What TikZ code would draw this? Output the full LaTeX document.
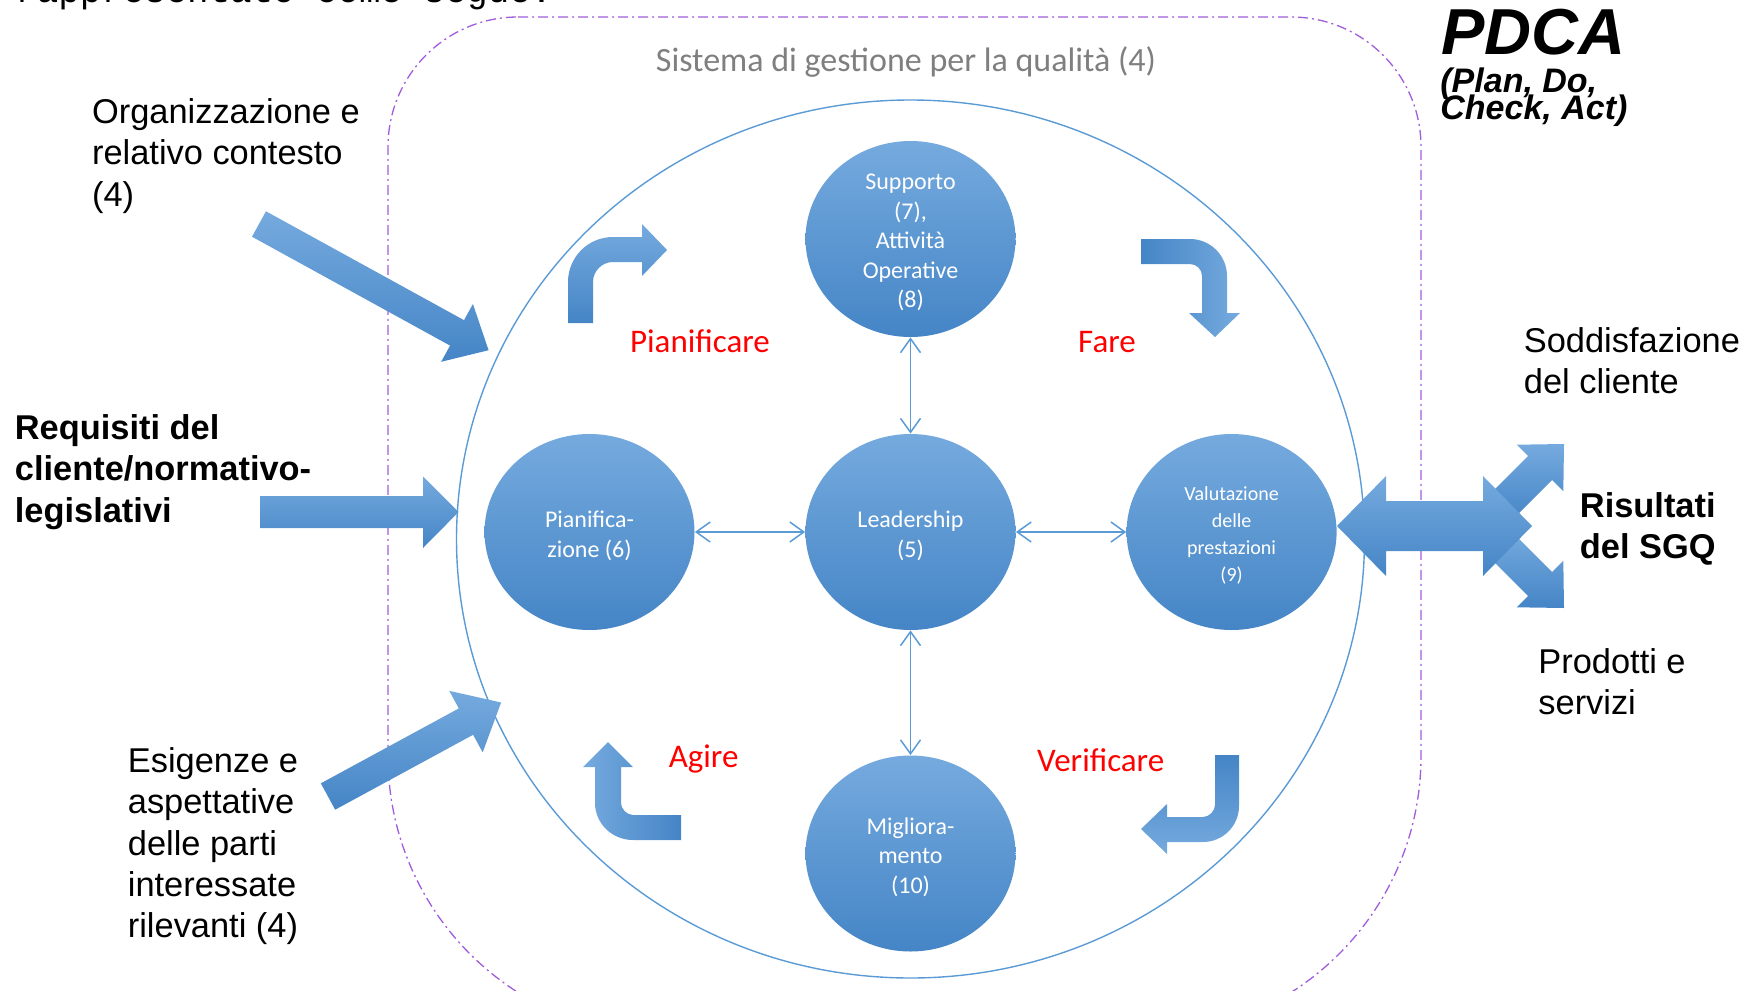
\documentclass[tikz,border=0pt]{standalone}
\usepackage{fontspec}
\setmainfont{Liberation Sans}
\newfontfamily\gillfont{Carlito}
\newfontfamily\monofont{Liberation Mono}
\usetikzlibrary{arrows.meta,shapes.geometric}
\definecolor{blueL}{HTML}{75AADE}
\definecolor{blueD}{HTML}{4585C6}
\definecolor{ringblue}{HTML}{5B9BD5}
\definecolor{dashpurple}{HTML}{A05CDB}
\definecolor{titlegray}{HTML}{7F7F7F}
\newcommand\tightlines{\lineskiplimit=-50pt\relax}
\begin{document}
\begin{tikzpicture}[x=0.5pt, y=-0.5pt,
  ring/.style={ellipse, draw=ringblue, line width=0.7pt, minimum width=454pt, minimum height=439pt, inner sep=0},
  proc/.style={ellipse, top color=blueL, bottom color=blueD, draw=none, minimum width=105pt, minimum height=98pt, inner sep=0},
  ptxt/.style={text=white, font=\gillfont\fontsize{12}{14.8}\selectfont, align=center, inner sep=0, yshift=-1.8pt},
  ptxtsmall/.style={ptxt, font=\gillfont\fontsize{10}{13.4}\selectfont},
  link/.style={draw=ringblue, line width=0.75pt, >={Straight Barb[length=7pt,width=10pt]}, <->},
  phase/.style={text=red, font=\gillfont\fontsize{16.5}{20}\selectfont, inner sep=0},
  sidetxt/.style={anchor=north west, inner sep=0, align=left, font=\fontsize{17.2}{20.7}\selectfont},
  sidebold/.style={sidetxt, font=\bfseries\fontsize{17.2}{20.7}\selectfont},
  sysframe/.style={draw=dashpurple, line width=0.65pt, dash pattern=on 5pt off 2pt on 1pt off 2pt},
  vgrad/.style={top color=blueL, bottom color=blueD},
  vgradrev/.style={top color=blueD, bottom color=blueL},
  hgrad/.style={left color=blueL, right color=blueD},
  hgradrev/.style={left color=blueD, right color=blueL}
]
\useasboundingbox (0,0) rectangle (1754,990);
\clip (0,0) rectangle (1754,990);

% line of running text, cut by the page edge
\node[anchor=base west, inner sep=0, font=\monofont\fontsize{17.9}{20}\selectfont] (intro) at (15,3) {rappresentato come segue:};

% boundary of the quality management system
\draw[sysframe] (518,17) -- (1291,17)
  .. controls (1362.8,17) and (1421,75.2) .. (1421,147) -- (1421,756)
  .. controls (1421,910.6) and (1295.6,1036) .. (1141,1036) -- (668,1036)
  .. controls (513.4,1036) and (388,910.6) .. (388,756) -- (388,147)
  .. controls (388,75.2) and (446.2,17) .. (518,17) -- cycle;

\node[font=\gillfont\fontsize{17}{20}\selectfont, text=titlegray, inner sep=0] (title) at (906,62) {Sistema di gestione per la qualità (4)};

% PDCA ring
\node[ring] (sgq) at (910.5,539) {};

% bent arrows of the cycle
\shade[vgrad] (568,323) -- (568,282) .. controls (568,257.1) and (588.1,237) .. (613,237)
  -- (642,237) -- (642,224) -- (667,250) -- (642,276) -- (642,262) -- (613,262)
  .. controls (602,262) and (593,271) .. (593,282) -- (593,323) -- cycle;
\shade[hgradrev] (1141,239) -- (1190,239) .. controls (1210.4,239) and (1227,255.6) .. (1227,276)
  -- (1227,313) -- (1240,313) -- (1215,337) -- (1189,313) -- (1202,313) -- (1202,276)
  .. controls (1202,269.4) and (1196.6,264) .. (1190,264) -- (1141,264) -- cycle;
\shade[vgradrev] (1215,755) -- (1239,755) -- (1239,806) .. controls (1239,825.9) and (1222.9,842) .. (1203,842)
  -- (1167,842) -- (1167,854) -- (1141,829) -- (1167,804) -- (1167,817) -- (1203,817)
  .. controls (1209.6,817) and (1215,810.4) .. (1215,805) -- cycle;
\shade[hgrad] (681,815) -- (633,815) .. controls (626.4,815) and (621,808.4) .. (621,803)
  -- (621,767) -- (633,767) -- (608,742) -- (583,767) -- (595,767) -- (595,803)
  .. controls (595,823.4) and (612,840) .. (633,840) -- (681,840) -- cycle;

% phase names
\node[phase] (plan) at (700,341) {Pianificare};
\node[phase] (do) at (1107,342) {Fare};
\node[phase] (act) at (703.6,759) {Agire};
\node[phase] (check) at (1100.7,760.6) {Verificare};

% clauses
\node[proc, label={[ptxt]center:{Supporto\\(7),\\Attività\\Operative\\(8)}}] (sup) at (910.5,239) {};
\node[proc, label={[ptxt]center:{Leadership\\(5)}}] (lead) at (910.5,532) {};
\node[proc, label={[ptxt]center:{Pianifica-\\zione (6)}}] (pian) at (589.5,532) {};
\node[proc, label={[ptxtsmall]center:{Valutazione\\delle\\prestazioni\\(9)}}] (valu) at (1231.6,532) {};
\node[proc, label={[ptxt]center:{Migliora-\\mento\\(10)}}] (migl) at (910.5,853.5) {};

\draw[link] (sup) -- (lead);
\draw[link] (pian) -- (lead);
\draw[link] (lead) -- (valu);
\draw[link] (lead) -- (migl);

% inputs
\begin{scope}[shift={(259,224)}, rotate=-28.8]
  \shade[vgrad] (0,-14.5) -- (226,-14.5) -- (226,-33) -- (262,0) -- (226,33) -- (226,14.5) -- (0,14.5) -- cycle;
\end{scope}
\shade[vgrad] (260.6,496) -- (423,496) -- (423,476.5) -- (458.6,512) -- (423,548) -- (423,528) -- (260.6,528) -- cycle;
\begin{scope}[shift={(328,796.5)}, rotate=28.5]
  \shade[vgrad] (0,-15) -- (157,-15) -- (157,-35) -- (197,0) -- (157,35) -- (157,15) -- (0,15) -- cycle;
\end{scope}

% outputs
\shade[vgrad] (1488,496) -- (1528,456) -- (1516.7,444.7) -- (1564,444) -- (1563.3,491.3) -- (1552,480) -- (1512,520) -- cycle;
\shade[vgrad] (1488,556) -- (1528,596) -- (1516.7,607.3) -- (1564,608) -- (1563.3,560.7) -- (1552,572) -- (1512,532) -- cycle;
\shade[vgrad] (1337,526) -- (1386,476) -- (1386,501) -- (1483,501) -- (1483,476) -- (1532,526)
  -- (1483,576) -- (1483,551) -- (1386,551) -- (1386,576) -- cycle;

% side texts
\node[sidetxt] (ctx) at (91.7,94) {Organizzazione e\strut\\relativo contesto\strut\\(4)\strut};
\node[sidebold] (req) at (14.5,410) {Requisiti del\strut\\cliente/normativo-\strut\\legislativi\strut};
\node[sidetxt] (needs) at (127.5,743) {Esigenze e\strut\\aspettative\strut\\delle parti\strut\\interessate\strut\\rilevanti (4)\strut};
\node[sidetxt] (sat) at (1523.5,323) {Soddisfazione\strut\\del cliente\strut};
\node[sidebold] (res) at (1579.5,488) {Risultati\strut\\del SGQ\strut};
\node[sidetxt] (prod) at (1538,644) {Prodotti e\strut\\servizi\strut};

% PDCA heading
\node[anchor=base west, inner sep=0, font=\bfseries\itshape\fontsize{32.5}{36}\selectfont] (pdca) at (1441,55) {PDCA};
\node[anchor=north west, inner sep=0, align=left, font=\bfseries\itshape\fontsize{17}{13.5}\selectfont\tightlines] (pdcasub) at (1440,67) {(Plan, Do,\\Check, Act)};
\end{tikzpicture}
\end{document}
